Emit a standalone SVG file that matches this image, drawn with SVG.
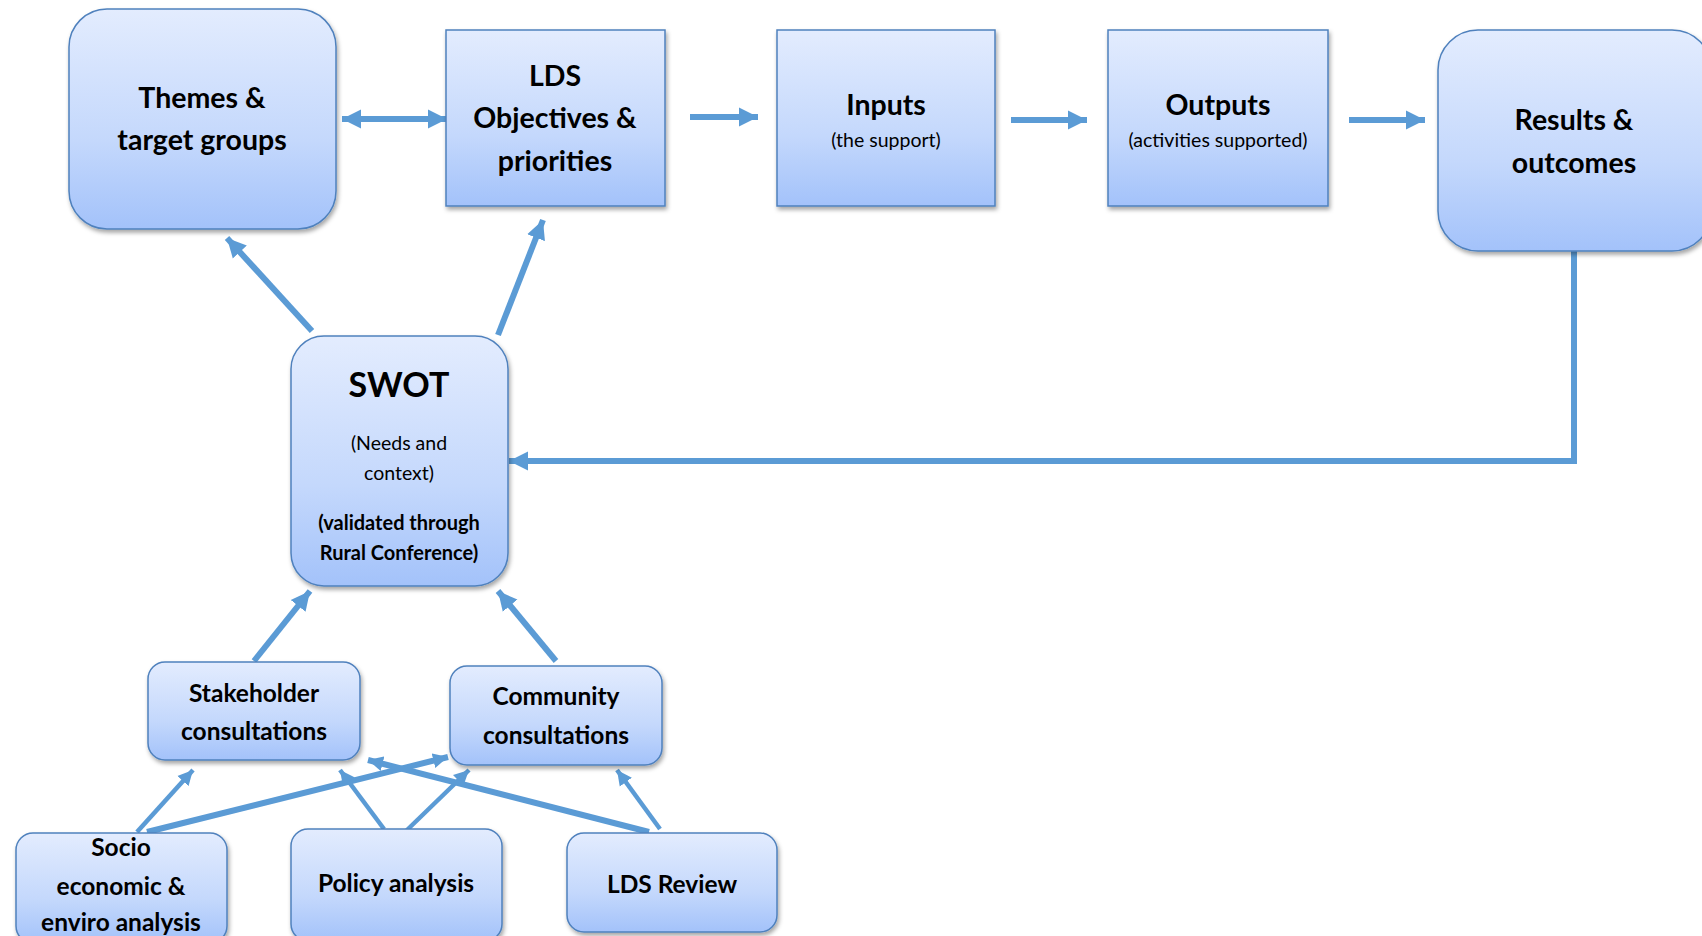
<svg xmlns="http://www.w3.org/2000/svg" width="1702" height="936" viewBox="0 0 1702 936">
<defs>
<linearGradient id="g" x1="0" y1="0" x2="0" y2="1">
<stop offset="0" stop-color="#e3ecfe"/>
<stop offset="0.6" stop-color="#c4d8fc"/>
<stop offset="1" stop-color="#a3c2fa"/>
</linearGradient>
<filter id="sh" x="-10%" y="-10%" width="125%" height="125%">
<feDropShadow dx="1.5" dy="3" stdDeviation="2" flood-color="#000" flood-opacity="0.35"/>
</filter>
<marker id="ah" markerUnits="userSpaceOnUse" markerWidth="21" markerHeight="21" refX="19" refY="10" orient="auto-start-reverse">
<path d="M0,0.5 L19,10 L0,19.5 Z" fill="#5b9bd5"/>
</marker>
<marker id="as" markerUnits="userSpaceOnUse" markerWidth="16" markerHeight="16" refX="15" refY="8" orient="auto">
<path d="M0,0.5 L15,8 L0,15.5 Z" fill="#5b9bd5"/>
</marker>
</defs>
<style>
.box{fill:url(#g);stroke:#4f81bd;stroke-width:1.5;filter:url(#sh)}
.t{font-family:Lato,"Liberation Sans",sans-serif;font-weight:bold;fill:#000;text-anchor:middle}
.big{font-size:28.5px}
.mid{font-size:24.5px}
.sm{font-size:19.5px;font-weight:normal}
.smb{font-size:20px}
.c{fill:none;stroke:#5b9bd5;stroke-width:6}
.cs{fill:none;stroke:#5b9bd5;stroke-width:4.5}
</style>
<rect width="1702" height="936" fill="#fff"/>
<g id="connectors">
<line class="c" x1="342" y1="119" x2="447" y2="119" marker-start="url(#ah)" marker-end="url(#ah)"/>
<line class="c" x1="690" y1="117" x2="758" y2="117" marker-end="url(#ah)"/>
<line class="c" x1="1011" y1="120" x2="1087" y2="120" marker-end="url(#ah)"/>
<line class="c" x1="1349" y1="120" x2="1425" y2="120" marker-end="url(#ah)"/>
<polyline class="c" points="1574,251 1574,461 509,461" marker-end="url(#ah)"/>
<line class="c" x1="312" y1="331" x2="227" y2="238" marker-end="url(#ah)"/>
<line class="c" x1="498" y1="335" x2="543" y2="220" marker-end="url(#ah)"/>
<line class="c" x1="254" y1="661" x2="310" y2="591" marker-end="url(#ah)"/>
<line class="c" x1="556" y1="661" x2="498" y2="591" marker-end="url(#ah)"/>
<line class="cs" x1="137" y1="832" x2="193" y2="770" marker-end="url(#as)"/>
<line class="c" x1="147" y1="832" x2="448" y2="757" marker-end="url(#as)"/>
<line class="cs" x1="384" y1="829" x2="340" y2="770" marker-end="url(#as)"/>
<line class="cs" x1="406" y1="831" x2="469" y2="770" marker-end="url(#as)"/>
<line class="c" x1="649" y1="832" x2="368" y2="760" marker-end="url(#as)"/>
<line class="cs" x1="660" y1="829" x2="617" y2="770" marker-end="url(#as)"/>
</g>
<g id="themes">
<rect class="box" x="69" y="9" width="267" height="220" rx="38"/>
<text class="t big" x="202" y="108">Themes &amp;</text>
<text class="t big" x="202" y="150">target groups</text>
</g>
<g id="lds-objectives">
<rect class="box" x="446" y="30" width="219" height="176"/>
<text class="t big" x="555" y="86">LDS</text>
<text class="t big" x="555" y="128">Objectives &amp;</text>
<text class="t big" x="555" y="171">priorities</text>
</g>
<g id="inputs">
<rect class="box" x="777" y="30" width="218" height="176"/>
<text class="t big" x="886" y="115">Inputs</text>
<text class="t sm" x="886" y="147">(the support)</text>
</g>
<g id="outputs">
<rect class="box" x="1108" y="30" width="220" height="176"/>
<text class="t big" x="1218" y="115">Outputs</text>
<text class="t sm" x="1218" y="147">(activities supported)</text>
</g>
<g id="results">
<rect class="box" x="1438" y="30" width="274" height="221" rx="40"/>
<text class="t big" x="1574" y="130">Results &amp;</text>
<text class="t big" x="1574" y="173">outcomes</text>
</g>
<g id="swot">
<rect class="box" x="291" y="336" width="217" height="250" rx="33"/>
<text class="t" x="399" y="397" style="font-size:34px">SWOT</text>
<text class="t sm" x="399" y="450">(Needs and</text>
<text class="t sm" x="399" y="480">context)</text>
<text class="t smb" x="399" y="530">(validated through</text>
<text class="t smb" x="399" y="560">Rural Conference)</text>
</g>
<g id="stakeholder">
<rect class="box" x="148" y="662" width="212" height="98" rx="17"/>
<text class="t mid" x="254" y="702">Stakeholder</text>
<text class="t mid" x="254" y="740">consultations</text>
</g>
<g id="community">
<rect class="box" x="450" y="666" width="212" height="99" rx="17"/>
<text class="t mid" x="556" y="705">Community</text>
<text class="t mid" x="556" y="744">consultations</text>
</g>
<g id="socio">
<rect class="box" x="16" y="833" width="211" height="110" rx="17"/>
<text class="t mid" x="121" y="856">Socio</text>
<text class="t mid" x="121" y="895">economic &amp;</text>
<text class="t mid" x="121" y="931">enviro analysis</text>
</g>
<g id="policy">
<rect class="box" x="291" y="829" width="211" height="112" rx="17"/>
<text class="t mid" x="396" y="892">Policy analysis</text>
</g>
<g id="lds-review">
<rect class="box" x="567" y="833" width="210" height="99" rx="17"/>
<text class="t mid" x="672" y="893">LDS Review</text>
</g>
</svg>
